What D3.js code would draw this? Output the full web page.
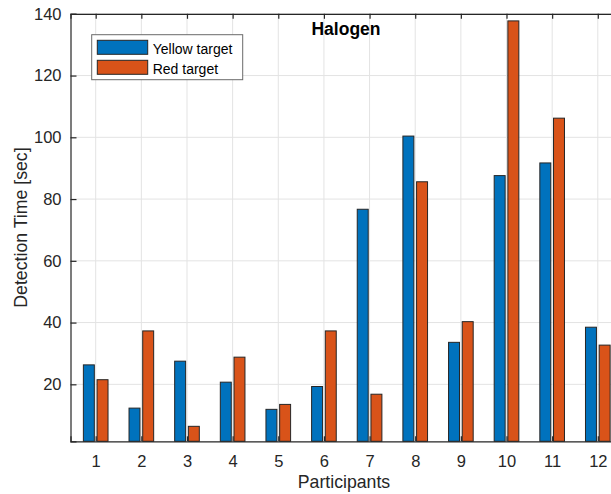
<!DOCTYPE html>
<html>
<head>
<meta charset="utf-8">
<script src="https://cdn.jsdelivr.net/npm/d3@7"></script>
<style>
  body { margin: 0; background: #fff; }
  text { font-family: "Liberation Sans", Arial, sans-serif; }
</style>
</head>
<body>
<svg id="chart" width="611" height="494"></svg>
<script>
// data
var participants = [1, 2, 3, 4, 5, 6, 7, 8, 9, 10, 11, 12];
var yellowTarget = [26.3, 12.3, 27.5, 20.7, 11.9, 19.3, 76.7, 100.4, 33.6, 87.6, 91.7, 38.5];
var redTarget = [21.5, 37.3, 6.4, 28.8, 13.5, 37.3, 16.8, 85.6, 40.3, 137.7, 106.2, 32.7];
var yTicks = [20, 40, 60, 80, 100, 120, 140];
var seriesNames = ["Yellow target", "Red target"];
var seriesColors = ["#0072BD", "#D95319"];

var svg = d3.select("#chart");

var plotLeft = 70.5, plotTop = 13.8, plotBottom = 441.3, plotRight = 623;
var x = d3.scaleLinear().domain([0.448, 12.552]).range([plotLeft, plotRight]);
var y = d3.scaleLinear().domain([1.55, 140]).range([plotBottom, plotTop]);

// grid
var g_grid = svg.append("g");
g_grid.selectAll("line.vx").data(participants).enter().append("line")
    .attr("x1", d => x(d)).attr("x2", d => x(d))
    .attr("y1", plotTop).attr("y2", plotBottom)
    .style("stroke", "#e3e3e3").style("stroke-width", 1);
g_grid.selectAll("line.hy").data(yTicks).enter().append("line")
    .attr("x1", plotLeft).attr("x2", plotRight)
    .attr("y1", d => y(d)).attr("y2", d => y(d))
    .style("stroke", "#e3e3e3").style("stroke-width", 1);

// bars
var series = [yellowTarget, redTarget];
var offsets = [[-0.27, -0.03], [0.03, 0.27]];
series.forEach(function(vals, s) {
    svg.append("g").selectAll("rect").data(vals).enter().append("rect")
        .attr("x", (d, i) => x(participants[i] + offsets[s][0]))
        .attr("width", (d, i) => x(participants[i] + offsets[s][1]) - x(participants[i] + offsets[s][0]))
        .attr("y", d => y(d))
        .attr("height", d => plotBottom - y(d))
        .style("fill", seriesColors[s])
        .style("stroke", "#262626")
        .style("stroke-width", 1);
});

// axes (MATLAB style: ticks inward, box on)
var xAxisB = d3.axisBottom(x).tickValues(participants).tickSize(-5).tickPadding(14);
var xAxisT = d3.axisTop(x).tickValues(participants).tickSize(-5).tickFormat("");
var yAxisL = d3.axisLeft(y).tickValues(yTicks).tickSize(-6).tickPadding(9);

function styleAxis(g) {
    g.select(".domain").style("stroke", "#262626").style("stroke-width", 1.2);
    g.selectAll(".tick line").style("stroke", "#262626").style("stroke-width", 1.2);
    g.selectAll(".tick text").style("font-size", "16.5px").style("fill", "#262626")
        .style("font-family", "Liberation Sans, Arial, sans-serif");
}

svg.append("g").attr("transform", "translate(0," + plotBottom + ")").call(xAxisB).call(styleAxis);
svg.append("g").attr("transform", "translate(0," + plotTop + ")").call(xAxisT).call(styleAxis);
svg.append("g").attr("transform", "translate(" + plotLeft + ",0)").call(yAxisL).call(styleAxis);

// labels
svg.append("text")
    .attr("x", 344).attr("y", 488)
    .attr("text-anchor", "middle")
    .style("font-size", "17.7px").style("fill", "#262626")
    .text("Participants");

svg.append("text")
    .attr("transform", "translate(27," + ((plotTop + plotBottom) / 2) + ") rotate(-90)")
    .attr("text-anchor", "middle")
    .style("font-size", "17.7px").style("fill", "#262626")
    .text("Detection Time [sec]");

svg.append("text")
    .attr("x", 346).attr("y", 35)
    .attr("text-anchor", "middle")
    .style("font-size", "17.5px").style("font-weight", "bold").style("fill", "#000")
    .text("Halogen");

// legend
var lg = svg.append("g").attr("transform", "translate(91.7,34.7)");
lg.append("rect")
    .attr("width", 151).attr("height", 45)
    .style("fill", "#fff").style("stroke", "#6a6a6a").style("stroke-width", 1);
seriesNames.forEach(function(name, s) {
    lg.append("rect")
        .attr("x", 5.6).attr("y", 5.6 + s * 20)
        .attr("width", 50.4).attr("height", 14)
        .style("fill", seriesColors[s]).style("stroke", "#262626").style("stroke-width", 1);
    lg.append("text")
        .attr("x", 61).attr("y", 19.3 + s * 20)
        .style("font-size", "14px").style("fill", "#000")
        .text(name);
});
</script>
</body>
</html>
